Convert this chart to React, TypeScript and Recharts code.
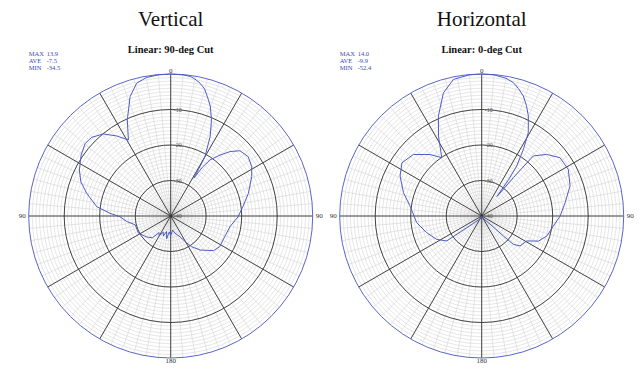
import { RadarChart, Radar, PolarGrid, PolarAngleAxis, PolarRadiusAxis } from "recharts"

// angles are degrees clockwise from the top, gains in dB
const verticalAngles = [
  0, 5, 8, 10, 12.5, 15, 18, 20, 23, 26.4, 30, 31.5, 33, 35, 39, 42.7, 46.7, 52.6, 58.7, 64,
  73.7, 82.6, 90.6, 100, 111, 122, 129, 139, 146, 150, 156, 166, 172, 180, 185, 190, 195, 200,
  205, 210, 215, 220, 229, 242, 256, 263, 269.2, 272.5, 277.2, 285.1, 290.9, 296.7, 304.2,
  310.3, 314.9, 320.6, 326, 330.9, 335.7, 341.2, 345.6, 350, 355,
]
const verticalGain = [
  0, -0.1, -0.3, -0.8, -1.7, -3, -5.6, -7.3, -10.6, -15, -20.7, -27.5, -23.6, -20.7, -17.9,
  -15.3, -13.2, -12.5, -13.3, -14.6, -17.2, -19.5, -21, -23, -23.7, -23.7, -24.5, -27.3, -29.6,
  -31.5, -33.6, -35, -36, -34.5, -35.5, -33.5, -35.5, -34, -35, -33.5, -34.3, -32, -31, -29.7,
  -29.7, -27.5, -25.7, -22.9, -19, -15.5, -12.9, -11.2, -9.5, -8.4, -8.6, -10.1, -12.8, -15.5,
  -10.3, -4.5, -1.4, -0.4, -0.1,
]

const horizontalAngles = [
  0, 5, 10, 13.4, 16, 19.1, 22, 25, 29.2, 32, 35, 36.5, 38, 39.5, 40.7, 46.5, 53.3, 61.7, 71.2,
  80.9, 90, 97.9, 107, 113.8, 119, 128, 131.8, 132.7, 133.5, 140, 160, 180, 200, 220, 228, 233,
  234.5, 242.6, 253.1, 264.1, 278, 286.6, 296.1, 303.7, 312, 320, 325.6, 331.6, 336.6, 342.7,
  348.3, 355,
]
const horizontalGain = [
  0, -0.1, -0.6, -1.4, -2.6, -4.2, -6.4, -8.9, -13.1, -17.8, -22.8, -27.2, -33, -26, -17.7,
  -14.8, -12.5, -12.3, -13.7, -16.2, -17.9, -19.6, -20.8, -22.5, -25.5, -26.3, -28, -31.7, -36,
  -38.5, -39.5, -40, -39.5, -38.5, -37, -33, -27.9, -25.7, -23.8, -21.6, -19.6, -17, -14.4, -13,
  -14.1, -17.4, -20.1, -14.4, -9.3, -3.7, -0.7, -0.1,
]

const statLabels = ["MAX", "AVE", "MIN"]
const verticalStats = ["13.9", "-7.5", "-34.5"]
const horizontalStats = ["14.0", "-9.9", "-52.4"]

const radiusTicks = [-40, -30, -20, -10]
const angleTicks = [0, 90, 180, 270]
const angleTickLabels = ["0", "90", "180", "90"]

const R = 142
const MIN_DB = -40
const dbToPx = (db: number) => ((db - MIN_DB) / -MIN_DB) * R

const fineAngles = Array.from({ length: 72 }, (_, i) => 90 - i * 5)
const majorAngles = Array.from({ length: 12 }, (_, i) => 90 - i * 30)
const fineRadii = Array.from({ length: 39 }, (_, i) => dbToPx(MIN_DB + i + 1))
const majorRadii = [-30, -20, -10].map(dbToPx)

const serif = "'Liberation Serif', 'DejaVu Serif', serif"

const AngleTick = (props: any) => {
  const { x, y, payload, textAnchor } = props
  const idx = angleTicks.indexOf(payload.value)
  return (
    <text x={x} y={y} textAnchor={textAnchor} dominantBaseline="central" fontSize={7} fill="#333">
      {idx >= 0 ? angleTickLabels[idx] : ""}
    </text>
  )
}

const RadiusTick = (props: any) => {
  const { x, y, payload } = props
  return (
    <text x={x + 3} y={y + 2} fontSize={6} fill="#555">
      {payload.value}
    </text>
  )
}

function PolarPlot({ title, cut, angles, gains, stats, left, cx, width }: any) {
  const data = angles.map((a: number, i: number) => ({ angle: a, gain: gains[i] }))
  return (
    <div style={{ position: "absolute", left, top: 0, width, height: 376 }}>
      <div style={{ position: "absolute", left: cx - 160, top: 9, width: 320, textAlign: "center", fontSize: 21, lineHeight: 1 }}>
        {title}
      </div>
      <div style={{ position: "absolute", left: cx - 160, top: 45, width: 320, textAlign: "center", fontSize: 10.5, fontWeight: "bold", lineHeight: 1 }}>
        {cut}
      </div>
      {statLabels.map((s, i) => (
        <div key={s} style={{ position: "absolute", left: cx - 142, top: 51 + i * 7, fontSize: 6.5, lineHeight: 1, color: "#3d4bb8", whiteSpace: "nowrap" }}>
          <span style={{ display: "inline-block", width: 18 }}>{s}</span>
          {stats[i]}
        </div>
      ))}
      <RadarChart width={width} height={376} cx={cx} cy={216} outerRadius={R} data={data} margin={{ top: 0, right: 0, bottom: 0, left: 0 }}>
        <PolarGrid gridType="circle" polarAngles={fineAngles} polarRadius={fineRadii} stroke="#cccccc" strokeWidth={0.5} />
        <PolarGrid gridType="circle" polarAngles={majorAngles} polarRadius={majorRadii} stroke="#333333" strokeWidth={0.9} />
        <PolarGrid gridType="circle" radialLines={false} polarAngles={[]} polarRadius={[R]} stroke="#5a66c6" strokeWidth={1} />
        <PolarAngleAxis dataKey="angle" type="number" domain={[0, 360]} ticks={angleTicks} axisLine={false} tickLine={false} tickSize={3} tick={AngleTick} />
        <PolarRadiusAxis angle={90} type="number" domain={[MIN_DB, 0]} ticks={radiusTicks} axisLine={false} tickLine={false} tick={RadiusTick} />
        <Radar dataKey="gain" stroke="#4d5cc4" strokeWidth={1} fill="none" dot={false} isAnimationActive={false} />
      </RadarChart>
    </div>
  )
}

export default function App() {
  return (
    <div style={{ position: "absolute", left: 0, top: 0, width: 640, height: 376, background: "#fff", fontFamily: serif, color: "#111" }}>
      <PolarPlot title="Vertical" cut="Linear: 90-deg Cut" angles={verticalAngles} gains={verticalGain} stats={verticalStats} left={0} cx={170.7} width={330} />
      <PolarPlot title="Horizontal" cut="Linear: 0-deg Cut" angles={horizontalAngles} gains={horizontalGain} stats={horizontalStats} left={320} cx={161.7} width={320} />
    </div>
  )
}
